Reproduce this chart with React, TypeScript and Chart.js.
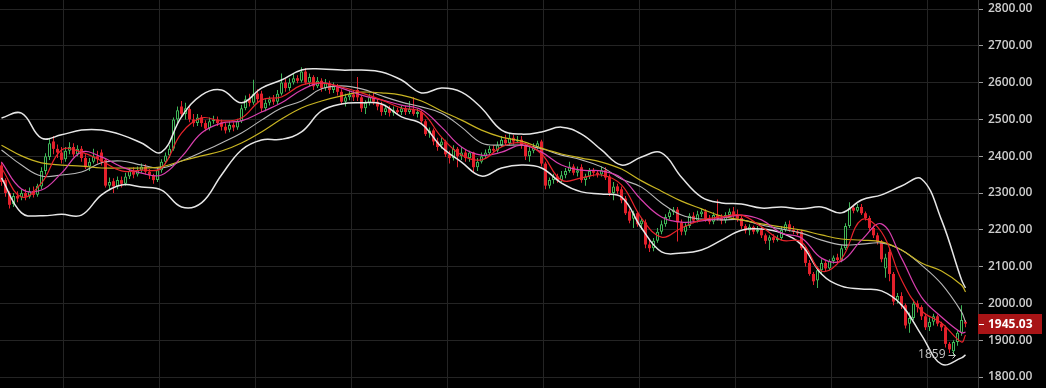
import React, { useEffect, useRef } from 'react';
import { Chart, registerables } from 'chart.js';
Chart.register(...registerables);

// ---- candles (index 0..241) ----
const opens = [
  2375,2335,2300,2270,2292,2288,2300,2290,2305,2295,
  2318,2360,2398,2440,2420,2410,2392,2415,2425,2405,
  2420,2395,2372,2385,2400,2410,2390,2320,2332,2318,
  2335,2325,2345,2358,2350,2362,2372,2358,2348,2335,
  2362,2385,2402,2420,2500,2535,2515,2528,2500,2490,
  2505,2490,2476,2495,2500,2492,2480,2472,2485,2478,
  2495,2530,2555,2545,2570,2570,2530,2545,2555,2548,
  2570,2600,2585,2600,2612,2605,2630,2600,2615,2590,
  2605,2585,2598,2580,2590,2575,2548,2560,2568,2580,
  2560,2530,2545,2560,2548,2540,2520,2530,2518,2525,
  2520,2530,2520,2528,2515,2520,2495,2462,2470,2440,
  2430,2440,2405,2395,2420,2400,2410,2395,2410,2370,
  2385,2400,2408,2420,2415,2430,2445,2435,2450,2440,
  2445,2430,2400,2415,2425,2440,2380,2320,2335,2345,
  2335,2348,2360,2372,2355,2370,2335,2345,2360,2355,
  2350,2362,2345,2300,2318,2310,2285,2250,2230,2245,
  2215,2220,2160,2150,2170,2195,2215,2235,2248,2255,
  2220,2195,2210,2238,2225,2242,2250,2230,2222,2240,
  2232,2225,2240,2250,2238,2232,2210,2198,2208,2195,
  2200,2185,2170,2180,2172,2178,2200,2215,2200,2195,
  2195,2150,2110,2080,2062,2090,2110,2095,2115,2125,
  2118,2150,2210,2260,2252,2262,2245,2232,2205,2185,
  2168,2095,2140,2080,2008,2020,1995,1945,1960,2000,
  1990,1965,1935,1950,1965,1945,1935,1890,1870,1895,
  1920,1950
];
const highs = [
  2385,2340,2305,2300,2305,2310,2310,2315,2318,2325,
  2370,2408,2450,2455,2432,2425,2425,2438,2435,2430,
  2428,2405,2395,2420,2415,2418,2395,2342,2340,2345,
  2345,2355,2368,2370,2372,2380,2378,2365,2352,2368,
  2392,2410,2430,2505,2535,2550,2545,2535,2515,2515,
  2512,2498,2505,2510,2508,2500,2490,2495,2492,2502,
  2540,2565,2570,2608,2582,2578,2555,2562,2566,2580,
  2625,2610,2612,2625,2620,2642,2640,2625,2620,2615,
  2612,2610,2605,2600,2596,2582,2570,2578,2580,2615,
  2565,2552,2570,2575,2555,2548,2540,2537,2535,2532,
  2538,2538,2550,2560,2528,2525,2500,2478,2475,2450,
  2450,2445,2415,2430,2425,2425,2418,2415,2412,2395,
  2410,2418,2428,2430,2440,2455,2458,2462,2458,2455,
  2455,2435,2425,2435,2442,2445,2385,2342,2352,2352,
  2360,2368,2385,2378,2372,2378,2352,2368,2368,2362,
  2372,2370,2350,2330,2325,2318,2292,2258,2252,2250,
  2232,2228,2172,2178,2205,2225,2242,2255,2262,2262,
  2228,2218,2245,2248,2252,2258,2256,2240,2248,2282,
  2242,2248,2258,2262,2255,2238,2215,2215,2212,2210,
  2210,2190,2185,2188,2185,2210,2222,2225,2210,2200,
  2200,2155,2118,2085,2100,2120,2115,2120,2130,2135,
  2158,2218,2275,2268,2270,2270,2250,2238,2212,2192,
  2172,2135,2150,2085,2028,2030,2000,1975,2010,2008,
  1995,1972,1962,1972,1970,1950,1940,1895,1900,1925,
  1995,1955
];
const lows = [
  2320,2290,2258,2262,2275,2280,2280,2285,2288,2290,
  2310,2350,2390,2405,2395,2380,2385,2405,2398,2400,
  2385,2365,2360,2380,2380,2375,2315,2310,2300,2310,
  2315,2320,2338,2340,2345,2355,2350,2338,2325,2330,
  2355,2378,2395,2415,2490,2505,2500,2492,2480,2482,
  2480,2468,2470,2488,2482,2470,2462,2465,2468,2472,
  2490,2525,2535,2540,2545,2520,2522,2538,2540,2542,
  2565,2575,2578,2595,2598,2600,2595,2590,2580,2585,
  2575,2578,2570,2572,2565,2540,2535,2552,2550,2550,
  2520,2515,2538,2540,2525,2510,2512,2508,2510,2512,
  2512,2512,2515,2510,2505,2488,2455,2450,2430,2415,
  2420,2398,2380,2388,2370,2390,2385,2385,2355,2360,
  2380,2395,2402,2408,2410,2425,2428,2430,2432,2435,
  2420,2390,2385,2408,2418,2372,2310,2312,2325,2328,
  2330,2340,2355,2348,2345,2328,2320,2338,2345,2342,
  2345,2335,2292,2280,2298,2272,2240,2218,2205,2208,
  2200,2150,2140,2142,2165,2188,2208,2228,2240,2168,
  2185,2185,2205,2218,2220,2235,2222,2215,2215,2225,
  2215,2218,2235,2230,2222,2202,2190,2185,2188,2190,
  2178,2162,2145,2165,2168,2172,2195,2195,2188,2185,
  2145,2100,2075,2050,2042,2080,2088,2090,2108,2110,
  2112,2145,2205,2245,2248,2240,2225,2198,2178,2160,
  2112,2070,2060,1995,2000,1985,1932,1920,1955,1975,
  1955,1928,1925,1940,1938,1925,1880,1865,1859,1885,
  1912,1935
];
const closes = [
  2330,2300,2268,2292,2285,2300,2290,2305,2295,2320,
  2360,2400,2435,2420,2410,2390,2415,2425,2405,2420,
  2395,2370,2385,2400,2392,2385,2320,2330,2318,2335,
  2325,2345,2360,2350,2362,2372,2358,2348,2335,2362,
  2385,2402,2420,2500,2525,2515,2530,2500,2490,2505,
  2490,2475,2495,2500,2490,2480,2470,2485,2478,2495,
  2530,2555,2545,2570,2555,2530,2545,2555,2548,2570,
  2600,2585,2600,2612,2605,2630,2600,2615,2590,2605,
  2585,2598,2580,2590,2575,2548,2560,2568,2560,2560,
  2530,2545,2560,2548,2535,2520,2530,2518,2525,2520,
  2530,2520,2528,2515,2520,2495,2460,2470,2440,2425,
  2440,2405,2395,2420,2400,2410,2395,2410,2370,2385,
  2400,2410,2420,2415,2430,2445,2435,2450,2440,2445,
  2430,2400,2415,2425,2435,2380,2320,2335,2345,2335,
  2348,2360,2372,2355,2362,2335,2345,2360,2355,2350,
  2362,2342,2300,2318,2305,2280,2245,2225,2245,2215,
  2225,2160,2150,2170,2195,2215,2235,2248,2255,2220,
  2195,2210,2238,2225,2242,2250,2230,2222,2240,2232,
  2225,2240,2250,2238,2230,2210,2198,2208,2195,2200,
  2185,2170,2180,2172,2178,2200,2215,2200,2195,2190,
  2150,2110,2080,2060,2090,2110,2095,2115,2125,2118,
  2150,2210,2260,2252,2262,2245,2232,2205,2185,2168,
  2120,2125,2080,2005,2020,1995,1940,1960,2000,1990,
  1965,1935,1950,1965,1945,1935,1890,1875,1895,1920,
  1955,1945.03
];

// ---- indicator lines, sampled at these candle indices ----
const lineIdx = [
  0,5,10,15,20,25,30,35,40,45,50,55,60,65,70,75,80,85,90,95,
  100,105,110,115,120,125,130,135,140,145,150,155,160,165,170,175,180,185,190,195,
  200,205,210,215,220,225,230,235,240,241
];
const bollUpper = [
  2504,2517,2449,2458,2471,2471,2458,2436,2411,2507,2566,2580,2545,2585,2607,2634,2637,2634,2634,2629,
  2607,2572,2585,2574,2531,2471,2460,2466,2479,2460,2417,2376,2398,2409,2343,2289,2273,2270,2259,2262,
  2257,2262,2246,2281,2295,2319,2338,2227,2064,2042
];
const bollLower = [
  2341,2246,2238,2242,2240,2295,2322,2316,2308,2262,2273,2349,2417,2444,2446,2466,2523,2542,2545,2542,
  2507,2488,2425,2384,2346,2368,2376,2368,2327,2303,2297,2289,2205,2140,2137,2145,2172,2199,2202,2191,
  2159,2080,2047,2039,2034,1996,1914,1835,1852,1860
];
const bollMid = [
  2417,2376,2346,2349,2357,2382,2387,2376,2368,2387,2411,2436,2463,2498,2531,2550,2583,2591,2583,2564,
  2547,2534,2517,2479,2436,2430,2430,2420,2403,2390,2371,2338,2316,2273,2240,2229,2227,2227,2213,2202,
  2191,2172,2159,2161,2164,2145,2104,2053,1977,1949
];
const ma5 = [
  2368,2289,2327,2417,2411,2387,2360,2362,2368,2463,2504,2496,2504,2553,2561,2593,2599,2588,2572,2553,
  2531,2520,2452,2403,2390,2425,2436,2406,2335,2341,2349,2322,2232,2180,2205,2227,2235,2240,2208,2172,
  2167,2088,2121,2227,2194,2064,1980,1947,1895,1914
];
const ma10 = [
  2384,2311,2308,2354,2411,2398,2371,2354,2349,2398,2463,2490,2496,2520,2545,2580,2599,2585,2566,2553,
  2539,2526,2479,2425,2403,2411,2430,2411,2376,2362,2360,2341,2281,2235,2221,2224,2232,2240,2227,2191,
  2178,2123,2115,2172,2216,2123,2017,1963,1920,1922
];
const ma60 = [
  2430,2401,2382,2376,2373,2368,2368,2368,2371,2387,2401,2414,2436,2466,2501,2531,2550,2564,2574,2572,
  2566,2550,2523,2498,2471,2452,2441,2422,2406,2395,2384,2365,2333,2305,2278,2257,2237,2227,2216,2208,
  2199,2186,2175,2172,2167,2145,2110,2088,2050,2031
];

// ---- axes ----
const yTicks = [1800,1900,2000,2100,2200,2300,2400,2500,2600,2700,2800];
const xGridIdx = [15.5,39.5,63.5,87.5,111.5,135.5,159.5,183.5,207.5,231.5];

const UP = '#3fb557';
const DOWN = '#e3202b';

export default function App() {
  const ref = useRef<HTMLCanvasElement | null>(null);

  useEffect(() => {
    if (!ref.current) return;
    const up = closes.map((c, i) => c >= opens[i]);
    const wicks = closes.map((_, i) => ({ x: i, y: [lows[i], highs[i]] }));
    const bodies = closes.map((_, i) => ({ x: i, y: [opens[i], closes[i]] }));
    const line = (vals: number[], color: string, width: number, ord: number) => ({
      type: 'line',
      data: lineIdx.map((x, k) => ({ x, y: vals[k] })),
      borderColor: color,
      borderWidth: width,
      pointRadius: 0,
      pointHoverRadius: 0,
      fill: false,
      tension: 0.4,
      order: ord,
    });

    const overlay = {
      id: 'overlay',
      afterDraw(chart: any) {
        const { ctx, chartArea } = chart;
        const xs = chart.scales.x;
        const ys = chart.scales.y;
        const last = closes[closes.length - 1];
        const py = ys.getPixelForValue(last);
        ctx.save();
        ctx.fillStyle = '#a81416';
        ctx.fillRect(chartArea.right, Math.round(py) - 10, 64, 20);
        ctx.strokeStyle = '#ffffff';
        ctx.lineWidth = 1;
        ctx.beginPath();
        ctx.moveTo(chartArea.right + 1, Math.round(py) + 0.5);
        ctx.lineTo(chartArea.right + 6, Math.round(py) + 0.5);
        ctx.stroke();
        ctx.fillStyle = '#ffffff';
        ctx.font = '700 12px "Open Sans"';
        ctx.textBaseline = 'middle';
        ctx.textAlign = 'left';
        ctx.fillText(last.toFixed(2), chartArea.right + 10, py + 0.5);

        // lowest-low marker: "1859 →"
        const lowVal = Math.min(...lows);
        const li = lows.indexOf(lowVal);
        const lx = xs.getPixelForValue(li);
        const ly = Math.round(ys.getPixelForValue(lowVal));
        ctx.fillStyle = '#c4c4c4';
        ctx.font = '12px "Open Sans"';
        ctx.textAlign = 'right';
        ctx.fillText(String(lowVal), lx - 8, ly);
        ctx.strokeStyle = '#c4c4c4';
        ctx.beginPath();
        ctx.moveTo(lx - 5, ly + 0.5);
        ctx.lineTo(lx + 2, ly + 0.5);
        ctx.moveTo(lx - 1, ly - 2.5);
        ctx.lineTo(lx + 2, ly + 0.5);
        ctx.lineTo(lx - 1, ly + 3.5);
        ctx.stroke();
        ctx.restore();
      },
    };

    const chart = new Chart(ref.current, {
      type: 'bar',
      data: {
        datasets: [
          line(ma5, '#e8232b', 1.2, 0),
          line(ma10, '#d83fae', 1.2, 1),
          line(ma60, '#c8b422', 1.2, 2),
          line(bollMid, '#b8b8b8', 1.1, 3),
          line(bollUpper, '#e6e6e6', 1.5, 4),
          line(bollLower, '#e6e6e6', 1.5, 5),
          {
            type: 'bar',
            data: bodies,
            barThickness: 3,
            grouped: false,
            inflateAmount: 0,
            borderSkipped: false,
            backgroundColor: (c: any) => (up[c.dataIndex] ? '#000000' : DOWN),
            borderColor: (c: any) => (up[c.dataIndex] ? UP : DOWN),
            borderWidth: (c: any) => (up[c.dataIndex] ? 1 : 0),
            order: 10,
          },
          {
            type: 'bar',
            data: wicks,
            barThickness: 1,
            grouped: false,
            inflateAmount: 0,
            borderSkipped: false,
            borderWidth: 0,
            backgroundColor: (c: any) => (up[c.dataIndex] ? UP : DOWN),
            order: 11,
          },
        ] as any,
      },
      options: {
        animation: false,
        responsive: false,
        maintainAspectRatio: false,
        events: [],
        layout: { padding: 0 },
        plugins: { legend: { display: false }, tooltip: { enabled: false } },
        scales: {
          x: {
            type: 'linear',
            offset: false,
            min: -0.375,
            max: 244.125,
            ticks: { display: false },
            grid: { color: '#242424', drawTicks: false, lineWidth: 1, offset: false },
            border: { display: false },
            afterBuildTicks: (s: any) => {
              s.ticks = xGridIdx.map((v) => ({ value: v }));
            },
            afterFit: (s: any) => {
              s.height = 0;
              s.paddingLeft = 0;
              s.paddingRight = 0;
            },
          },
          y: {
            type: 'linear',
            position: 'right',
            min: 1770.11,
            max: 2824.46,
            afterBuildTicks: (s: any) => {
              s.ticks = yTicks.map((v) => ({ value: v }));
            },
            afterFit: (s: any) => {
              s.width = 68;
              s.paddingTop = 0;
              s.paddingBottom = 0;
            },
            ticks: {
              color: '#cdcdcd',
              padding: 5,
              font: { family: '"Open Sans"', size: 12, weight: '600' },
              callback: (v: any) => Number(v).toFixed(2),
            },
            grid: { color: '#242424', tickColor: '#9a9a9a', tickLength: 5, lineWidth: 1 },
            border: { display: true, color: '#3a3a3a' },
          },
        },
      } as any,
      plugins: [overlay],
    });
    return () => chart.destroy();
  }, []);

  return (
    <div style={{ position: 'fixed', left: 0, top: 0, width: 1046, height: 388, background: '#000', overflow: 'hidden' }}>
      <canvas ref={ref} width={1046} height={388} style={{ display: 'block', width: 1046, height: 388 }} />
    </div>
  );
}
